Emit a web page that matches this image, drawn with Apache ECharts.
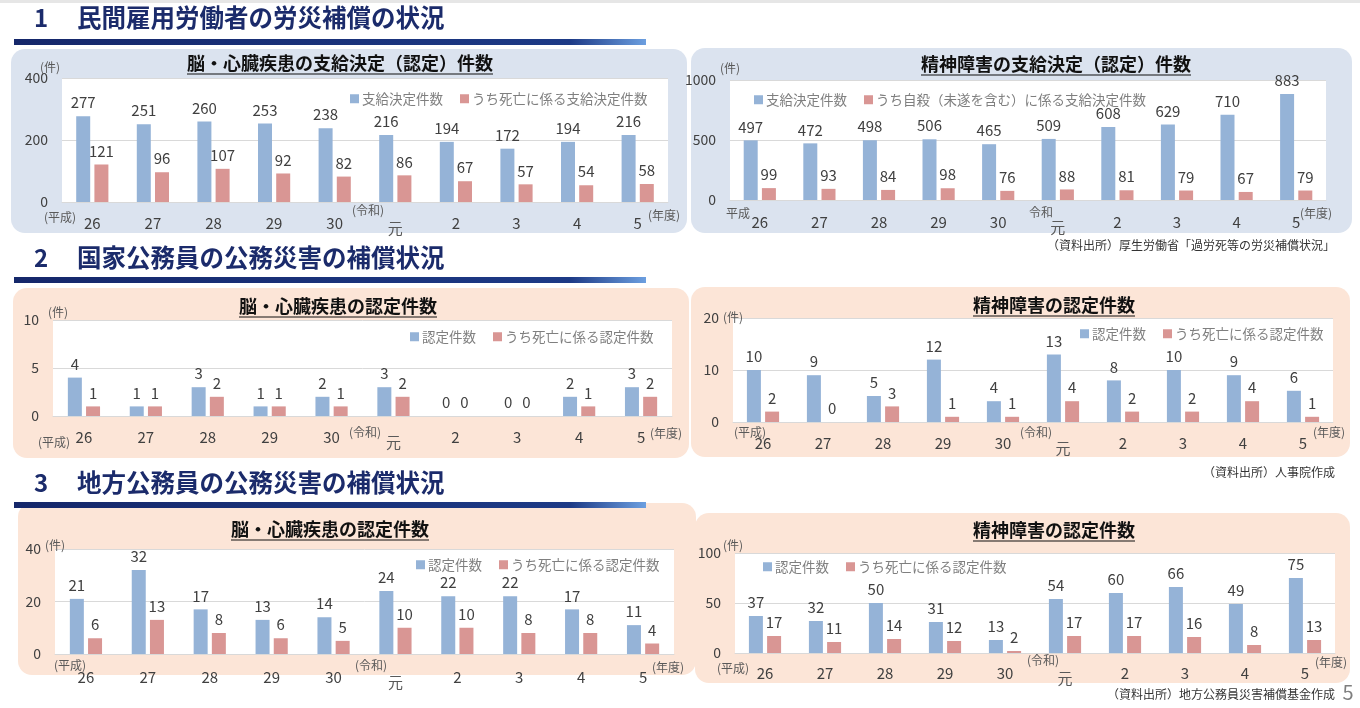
<!DOCTYPE html>
<html>
<head>
<meta charset="utf-8">
<script src="https://cdn.jsdelivr.net/npm/echarts@6/dist/echarts.min.js"></script>
<style>
html,body{margin:0;padding:0;background:#fff;}
#main{width:1360px;height:708px;}
</style>
</head>
<body>
<div id="main"></div>
<script>
// ---- data ----
const categories = ['26','27','28','29','30','元','2','3','4','5'];

const privHeartTotal = [277,251,260,253,238,216,194,172,194,216];
const privHeartDeath = [121,96,107,92,82,86,67,57,54,58];
const privMentalTotal = [497,472,498,506,465,509,608,629,710,883];
const privMentalSuicide = [99,93,84,98,76,88,81,79,67,79];

const natHeartTotal = [4,1,3,1,2,3,0,0,2,3];
const natHeartDeath = [1,1,2,1,1,2,0,0,1,2];
const natMentalTotal = [10,9,5,12,4,13,8,10,9,6];
const natMentalDeath = [2,0,3,1,1,4,2,2,4,1];

const locHeartTotal = [21,32,17,13,14,24,22,22,17,11];
const locHeartDeath = [6,13,8,6,5,10,10,8,8,4];
const locMentalTotal = [37,32,50,31,13,54,60,66,49,75];
const locMentalDeath = [17,11,14,12,2,17,17,16,8,13];

const yMaxes = [400,1000,10,20,40,100];
const yIntervals = [200,500,5,10,20,50];

const chartTitles = [
  '脳・心臓疾患の支給決定（認定）件数','精神障害の支給決定（認定）件数',
  '脳・心臓疾患の認定件数','精神障害の認定件数',
  '脳・心臓疾患の認定件数','精神障害の認定件数'
];
const legendNames = [
  ['支給決定件数','うち死亡に係る支給決定件数'],
  ['支給決定件数','うち自殺（未遂を含む）に係る支給決定件数'],
  ['認定件数','うち死亡に係る認定件数'],
  ['認定件数','うち死亡に係る認定件数'],
  ['認定件数','うち死亡に係る認定件数'],
  ['認定件数','うち死亡に係る認定件数']
];
const seriesData = [
  [privHeartTotal, privHeartDeath],
  [privMentalTotal, privMentalSuicide],
  [natHeartTotal, natHeartDeath],
  [natMentalTotal, natMentalDeath],
  [locHeartTotal, locHeartDeath],
  [locMentalTotal, locMentalDeath]
];
const sectionHeadings = ['民間雇用労働者の労災補償の状況','国家公務員の公務災害の補償状況','地方公務員の公務災害の補償状況'];
const sources = ['（資料出所）厚生労働省「過労死等の労災補償状況」','（資料出所）人事院作成','（資料出所）地方公務員災害補償基金作成'];

// ---- layout ----
const FONT = '"Noto Sans CJK JP","Noto Sans",sans-serif';
const BLUE = '#95b3d7', RED = '#d99694';
const layouts = [
  {grid:{left:62,top:78,width:606,height:124}, legend:{left:345,top:87}, tx:340, ty:63,
   notes:[['(件)',40,67],['(平成)',44,217],['(令和)',352,210],['(年度)',648,215]]},
  {grid:{left:730,top:80,width:596,height:120}, legend:{left:749,top:88}, tx:1056, ty:64,
   notes:[['(件)',720,68],['平成',726,213],['令和',1029,212],['(年度)',1300,213]]},
  {grid:{left:53,top:320,width:619,height:96}, legend:{left:405,top:325}, tx:338, ty:306,
   notes:[['(件)',48,312],['(平成)',38,442],['(令和)',349,432],['(年度)',650,433]]},
  {grid:{left:733,top:318,width:600,height:104}, legend:{left:1075,top:322}, tx:1054, ty:305,
   notes:[['(件)',723,317],['(平成)',734,432],['(令和)',1020,432],['(年度)',1313,432]]},
  {grid:{left:55,top:549,width:619,height:105}, legend:{left:411,top:553}, tx:330, ty:529,
   notes:[['(件)',45,545],['(平成)',54,665],['(令和)',355,665],['(年度)',652,667]]},
  {grid:{left:735,top:553,width:600,height:100}, legend:{left:758,top:555}, tx:1054, ty:530,
   notes:[['(件)',723,545],['(平成)',717,668],['(令和)',1027,660],['(年度)',1315,662]]}
];
const labelMargins = [14,15,14,14,16,13];

const panels = [
  [11,49,676,184,'#dbe3ef'],[691,48,661,185,'#dbe3ef'],
  [13,288,676,170,'#fce5d7'],[691,287,659,170,'#fce5d7'],
  [18,503,678,172,'#fce5d7'],[695,513,655,170,'#fce5d7']
];
const headingPos = [[18,42],[258,280],[483,505]];

// ---- build option ----
const grids=[], xAxes=[], yAxes=[], series=[], legends=[], graphics=[];

panels.forEach(p=>{
  graphics.push({type:'rect', z:-10, shape:{x:p[0],y:p[1],width:p[2],height:p[3],r:14}, style:{fill:p[4]}});
});
headingPos.forEach((h,i)=>{
  graphics.push({type:'text', z:5, style:{text:String(i+1), x:34, y:h[0], font:'bold 24px '+FONT, fill:'#1b2b6b', textVerticalAlign:'middle', verticalAlign:'middle'}});
  graphics.push({type:'text', z:5, style:{text:sectionHeadings[i], x:77, y:h[0], font:'bold 24.5px '+FONT, fill:'#1b2b6b', textVerticalAlign:'middle', verticalAlign:'middle'}});
  graphics.push({type:'rect', z:5, shape:{x:14,y:h[1]-3,width:632,height:6},
    style:{fill:new echarts.graphic.LinearGradient(0,0,1,0,[{offset:0,color:'#15276a'},{offset:0.88,color:'#1d3a86'},{offset:1,color:'#6c9fe0'}])}});
});
graphics.push({type:'rect', z:-11, shape:{x:0,y:0,width:1360,height:3}, style:{fill:'#e6e6e6'}});

const srcY = [245,472,694];
sources.forEach((s,i)=>{
  graphics.push({type:'text', z:5, style:{text:s, x:1335, y:srcY[i], font:'12px '+FONT, fill:'#333', textAlign:'right', align:'right', textVerticalAlign:'middle', verticalAlign:'middle'}});
});
graphics.push({type:'text', z:5, style:{text:'5', x:1348, y:692, font:'20px '+FONT, fill:'#7f7f7f', textAlign:'center', align:'center', textVerticalAlign:'middle', verticalAlign:'middle'}});

layouts.forEach((L,i)=>{
  grids.push(Object.assign({show:true, backgroundColor:'#ffffff', borderWidth:0}, L.grid));
  xAxes.push({type:'category', gridIndex:i, data:categories,
    axisLine:{lineStyle:{color:'#d9d9d9'}}, axisTick:{show:false},
    axisLabel:{color:'#404040', fontSize:15, fontFamily:FONT, margin:labelMargins[i],
      formatter:v=> v==='元' ? '{g|元}' : v, rich:{g:{padding:[5,0,0,0], fontSize:15, color:'#595959', fontFamily:FONT}}}});
  yAxes.push({type:'value', gridIndex:i, min:0, max:yMaxes[i], interval:yIntervals[i],
    axisLine:{show:false}, axisTick:{show:false},
    axisLabel:{color:'#404040', fontSize:14, fontFamily:FONT, margin:14, formatter:v=>String(v)},
    splitLine:{lineStyle:{color:'#d9d9d9'}}});
  const names = legendNames[i];
  [0,1].forEach(k=>{
    series.push({type:'bar', name:names[k], xAxisIndex:i, yAxisIndex:i, data:seriesData[i][k],
      barWidth:14, barGap:'30%', itemStyle:{color:k===0?BLUE:RED},
      label:{show:true, position:'top', distance:6, fontSize:15, color:'#404040', fontFamily:FONT}});
  });
  legends.push({show:true, data:names.map(n=>({name:n})), left:L.legend.left, top:L.legend.top,
    itemWidth:9, itemHeight:9, itemGap:17, icon:'rect',
    textStyle:{color:'#7f7f7f', fontSize:13.5, fontFamily:FONT, padding:[0,0,0,-2]}, selectedMode:false});
  // title + underline
  const t = chartTitles[i];
  const w = t.length*18;
  graphics.push({type:'text', z:5, style:{text:t, x:L.tx, y:L.ty, font:'bold 18px '+FONT, fill:'#111', textAlign:'center', align:'center', textVerticalAlign:'middle', verticalAlign:'middle'}});
  graphics.push({type:'line', z:5, shape:{x1:L.tx-w/2, y1:L.ty+11, x2:L.tx+w/2, y2:L.ty+11}, style:{stroke:'#111', lineWidth:1.2}});
  L.notes.forEach(n=>{
    graphics.push({type:'text', z:5, style:{text:n[0], x:n[1], y:n[2], font:'12px '+FONT, fill:'#595959', textVerticalAlign:'middle', verticalAlign:'middle'}});
  });
});

const chart = echarts.init(document.getElementById('main'), null, {renderer:'canvas'});
chart.setOption({
  animation:false,
  backgroundColor:'#ffffff',
  grid:grids, xAxis:xAxes, yAxis:yAxes, series:series, legend:legends,
  graphic:{elements:graphics}
});
</script>
</body>
</html>
